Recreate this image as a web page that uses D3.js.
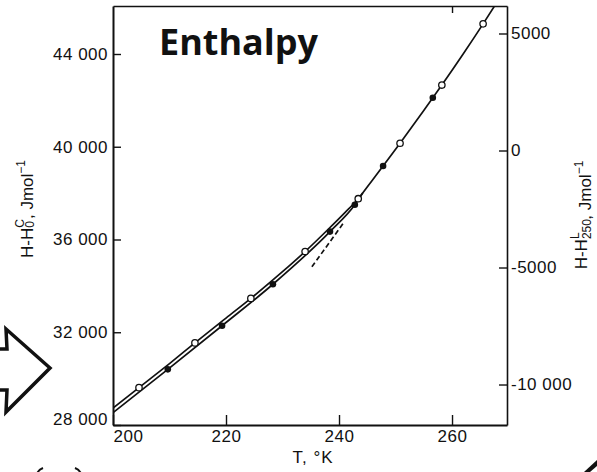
<!DOCTYPE html>
<html>
<head>
<meta charset="utf-8">
<script src="https://cdn.jsdelivr.net/npm/d3@7"></script>
<style>
  html, body { margin: 0; padding: 0; background: #fff; }
  svg { display: block; }
  text { font-family: "Liberation Sans", Arial, sans-serif; fill: #111; }
</style>
</head>
<body>
<svg id="chart" width="597" height="472"></svg>
<script>
// Temperature (K) and enthalpy (J/mol) data
const tempTicks = [200, 220, 240, 260];
const topTicks = [260];
const enthalpyTicks = [28000, 32000, 36000, 40000, 44000];
const liquidTicks = [-10000, -5000, 0, 5000];

// Smoothed curves: upper branch continues into the liquid region
const upperT = [200, 204.6, 210, 214.5, 220, 224.4, 230, 234, 238, 241, 243.4, 246, 250.8, 255, 258.2, 262, 265.5, 268];
const upperH = [28730, 29610, 30650, 31540, 32610, 33460, 34610, 35480, 36420, 37150, 37760, 38590, 40150, 41560, 42660, 44010, 45300, 46250];
const lowerT = [200, 209.7, 219.3, 228.3, 238.4, 242.8, 244.2];
const lowerH = [28530, 30400, 32280, 34070, 36340, 37500, 38010];

// Measured points
const openT = [204.6, 214.5, 224.4, 234, 243.4, 250.8, 258.2, 265.5];
const openH = [29610, 31540, 33460, 35480, 37760, 40150, 42660, 45300];
const filledT = [209.7, 219.3, 228.3, 238.4, 242.8, 247.8, 256.6];
const filledH = [30400, 32280, 34070, 36340, 37500, 39170, 42110];

// Liquid line extrapolated below the transition
const dashT = [235.2, 240.9];
const dashH = [34820, 36750];

const svg = d3.select("#chart");
const L = 113, R = 507, T = 6, B = 425;

const x = d3.scaleLinear().domain([200, 269.73]).range([L, R]);
const yL = d3.scaleLinear().domain([28000, 46070]).range([B, T]);
const yR = d3.scaleLinear().domain([-11730, 6175]).range([B, T]);

const fmtSpace = v => {
  const a = Math.abs(v);
  const s = a >= 10000 ? d3.format(",")(a).replace(",", " ") : String(a);
  return (v < 0 ? "-" : "") + s;
};

svg.append("defs").append("clipPath").attr("id", "plot")
  .append("rect").attr("x", L).attr("y", T).attr("width", R - L).attr("height", B - T);

function styleAxis(g, w) {
  g.attr("font-family", null).attr("font-size", null);
  g.select(".domain").attr("stroke", "#111").attr("stroke-width", w);
  g.selectAll(".tick line").attr("stroke", "#111").attr("stroke-width", 1.4);
  g.selectAll(".tick text").attr("font-size", 17).attr("letter-spacing", 0.5).attr("fill", "#111");
}

// Bottom axis
const gx = svg.append("g").attr("transform", `translate(0,${B})`)
  .call(d3.axisBottom(x).tickValues(tempTicks).tickSizeInner(-10).tickSizeOuter(0).tickPadding(5).tickFormat(d3.format("d")));
styleAxis(gx, 2);
gx.selectAll(".tick text").filter(d => d === 200).attr("text-anchor", "start");

// Top axis
const gt = svg.append("g").attr("transform", `translate(0,${T})`)
  .call(d3.axisTop(x).tickValues(topTicks).tickSizeInner(-7).tickSizeOuter(0).tickFormat(""));
styleAxis(gt, 1.4);

// Left axis
const gl = svg.append("g").attr("transform", `translate(${L},0)`)
  .call(d3.axisLeft(yL).tickValues(enthalpyTicks).tickSizeInner(-8).tickSizeOuter(0).tickPadding(5).tickFormat(fmtSpace));
styleAxis(gl, 2);
gl.selectAll(".tick text").filter(d => d === 28000).attr("dy", "0.32em").attr("y", -6);

// Right axis
const gr = svg.append("g").attr("transform", `translate(${R},0)`)
  .call(d3.axisRight(yR).tickValues(liquidTicks).tickSizeInner(-8).tickSizeOuter(0).tickPadding(4).tickFormat(fmtSpace));
styleAxis(gr, 1.6);

// Curves
const plot = svg.append("g").attr("clip-path", "url(#plot)");
const line = d3.line().x(d => x(d[0])).y(d => d[1]).curve(d3.curveMonotoneX);
plot.append("path").datum(upperT.map((t, i) => [t, yL(upperH[i])]))
  .attr("d", line).attr("fill", "none").attr("stroke", "#111").attr("stroke-width", 1.7);
plot.append("path").datum(lowerT.map((t, i) => [t, yL(lowerH[i])]))
  .attr("d", line).attr("fill", "none").attr("stroke", "#111").attr("stroke-width", 1.7);
plot.append("path").datum(dashT.map((t, i) => [t, yL(dashH[i])]))
  .attr("d", d3.line().x(d => x(d[0])).y(d => d[1]))
  .attr("fill", "none").attr("stroke", "#111").attr("stroke-width", 1.7).attr("stroke-dasharray", "5,3");

// Points
plot.selectAll("circle.filled").data(filledT.map((t, i) => [t, filledH[i]])).join("circle")
  .attr("class", "filled").attr("cx", d => x(d[0])).attr("cy", d => yL(d[1])).attr("r", 3.3)
  .attr("fill", "#111");
plot.selectAll("circle.open").data(openT.map((t, i) => [t, openH[i]])).join("circle")
  .attr("class", "open").attr("cx", d => x(d[0])).attr("cy", d => yL(d[1])).attr("r", 3.2)
  .attr("fill", "#fff").attr("stroke", "#111").attr("stroke-width", 1.3);

// Title
svg.append("text").attr("x", 159).attr("y", 55)
  .style("font-family", "'Open Sans', 'Liberation Sans', sans-serif")
  .attr("font-weight", "bold").attr("font-size", 36).text("Enthalpy");

// X axis title
svg.append("text").attr("x", 313).attr("y", 463).attr("text-anchor", "middle")
  .attr("font-size", 17).attr("letter-spacing", 1).text("T, °K");

// Left axis title
const lt = svg.append("text").attr("transform", "translate(33,209) rotate(-90)")
  .attr("text-anchor", "middle").attr("font-size", 17);
lt.append("tspan").text("H-H");
lt.append("tspan").attr("font-size", 12).attr("dy", 1).text("0");
lt.append("tspan").attr("font-size", 12).attr("dx", -6.7).attr("dy", -10).text("C");
lt.append("tspan").attr("dy", 9).text(", Jmol");
lt.append("tspan").attr("font-size", 12).attr("dy", -8).text("−1");

// Right axis title
const rt = svg.append("text").attr("transform", "translate(587,215) rotate(-90)")
  .attr("text-anchor", "middle").attr("font-size", 17);
rt.append("tspan").text("H-H");
rt.append("tspan").attr("font-size", 12).attr("dy", 4).text("250");
rt.append("tspan").attr("font-size", 12).attr("dx", -20).attr("dy", -12).text("L");
rt.append("tspan").attr("dx", 12.7).attr("dy", 12).text(", Jmol");
rt.append("tspan").attr("font-size", 12).attr("dy", -8).text("−1");

// Slide decorations: outlined arrow, bracket tops, corner mark
svg.append("path")
  .attr("d", "M-5,349 L7,349 L6,329 L50,368 L6,412 L7,390 L-5,390")
  .attr("fill", "#fff").attr("stroke", "#111").attr("stroke-width", 3.5).attr("stroke-linejoin", "miter");
svg.append("path").attr("d", "M43,468 Q38,470 37,474").attr("fill", "none").attr("stroke", "#111").attr("stroke-width", 2);
svg.append("path").attr("d", "M75,468 Q80,470 81,474").attr("fill", "none").attr("stroke", "#111").attr("stroke-width", 2);
svg.append("path").attr("d", "M584,472 L597,460 L597,466 L590,472 Z").attr("fill", "#111");
</script>
</body>
</html>
